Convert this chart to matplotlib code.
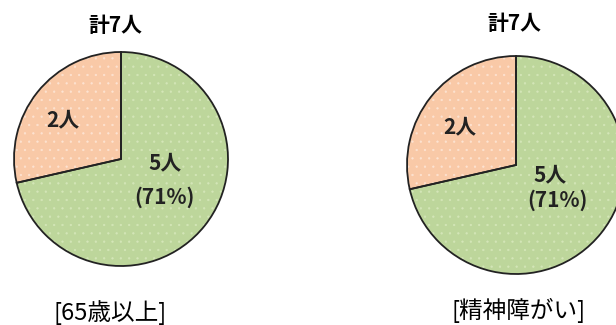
import matplotlib.pyplot as plt

plt.rcParams['font.family'] = ['Noto Sans CJK JP', 'DejaVu Sans']
plt.rcParams['hatch.linewidth'] = 0.4

# data
groups = ['65歳以上', '精神障がい']
other_counts = [2, 2]
main_counts = [5, 5]
colors = ['#f9c9a7', '#bdd69b']
dot_colors = ['#fde3d2', '#d4e6b8']

# layout (pixels, y up)
centers = [(121, 166), (516, 160)]
radii = [107, 109]
title_pos = [(115, 300), (514, 302)]
name_pos = [(110, 12), (519, 15)]
small_pos = [(63, 205), (460, 198)]
big_pos = [(165, 162), (550, 150)]
pct_pos = [(164, 128), (557, 125)]

fig = plt.figure(figsize=(6.16, 3.25), dpi=100)
ax = fig.add_axes([0, 0, 1, 1])

for i in range(2):
    vals = [other_counts[i], main_counts[i]]
    total = sum(vals)
    # fill
    ax.pie(vals, colors=colors, startangle=90, counterclock=True,
           center=centers[i], radius=radii[i],
           wedgeprops=dict(linewidth=0))
    # light dotted texture
    wedges, _ = ax.pie(vals, startangle=90, counterclock=True,
                       center=centers[i], radius=radii[i],
                       wedgeprops=dict(facecolor='none', linewidth=0))
    for w, dc in zip(wedges, dot_colors):
        w.set_hatch('..')
        w.set_edgecolor(dc)
    # outlines on top
    ax.pie(vals, startangle=90, counterclock=True,
           center=centers[i], radius=radii[i],
           wedgeprops=dict(facecolor='none', edgecolor='#222222',
                           linewidth=1.3))
    ax.text(*title_pos[i], f'計{total}人', ha='center', va='center',
            fontsize=15, fontweight='bold')
    ax.text(*name_pos[i], f'[{groups[i]}]', ha='center', va='center',
            fontsize=17)
    ax.text(*small_pos[i], f'{vals[0]}人', ha='center', va='center',
            fontsize=15, fontweight='bold', color='#222222')
    ax.text(*big_pos[i], f'{vals[1]}人', ha='center', va='center',
            fontsize=15, fontweight='bold', color='#222222')
    ax.text(*pct_pos[i], f'({round(vals[1] / total * 100)}%)', ha='center',
            va='center', fontsize=15, fontweight='bold', color='#222222')

ax.set_xlim(0, 616)
ax.set_ylim(0, 325)
ax.set_aspect('auto')
ax.axis('off')

fig.savefig('out.png', dpi=100)
